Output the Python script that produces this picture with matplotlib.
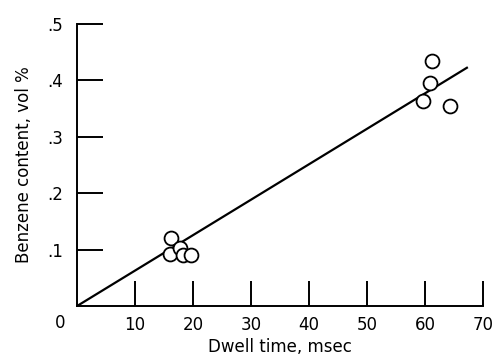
import matplotlib
matplotlib.use("Agg")
import matplotlib.pyplot as plt
import numpy as np

# data
dwell_time = [16.2, 16.0, 17.7, 18.2, 19.7, 61.1, 60.8, 59.7, 64.3]
benzene = [0.120, 0.093, 0.102, 0.090, 0.090, 0.435, 0.396, 0.364, 0.355]
fit_x = [0, 67.2]
fit_y = [0, 0.4225]
x_ticks = [10, 20, 30, 40, 50, 60, 70]
y_ticks = [0.1, 0.2, 0.3, 0.4, 0.5]
y_tick_labels = [".1", ".2", ".3", ".4", ".5"]

plt.rcParams['font.family'] = ['Liberation Sans Narrow', 'DejaVu Sans']
plt.rcParams['font.size'] = 12

fig = plt.figure(figsize=(4.94, 3.59), dpi=100)
ax = fig.add_axes([0.156, 0.1476, 0.822, 0.7854])

ax.plot(fit_x, fit_y, color='black', lw=1.6)
ax.plot(dwell_time, benzene, 'o', ms=10, mfc='white', mec='black', mew=1.3,
        linestyle='none')

ax.set_xlim(0, 70)
ax.set_ylim(0, 0.5)
ax.spines['top'].set_visible(False)
ax.spines['right'].set_visible(False)
ax.spines['left'].set_linewidth(1.4)
ax.spines['bottom'].set_linewidth(1.4)

ax.set_xticks(x_ticks)
ax.set_xticklabels([str(v) for v in x_ticks])
ax.set_yticks(y_ticks)
ax.set_yticklabels(y_tick_labels)
ax.tick_params(axis='x', direction='in', length=18, width=1.4, pad=7)
ax.tick_params(axis='y', direction='in', length=19, width=1.4, pad=10)
ax.text(-2.0, -0.03, "0", ha='right', va='center')

ax.set_xlabel("Dwell time, msec", labelpad=3)
ax.set_ylabel("Benzene content, vol %", labelpad=10)

fig.savefig("out.png", dpi=100)
